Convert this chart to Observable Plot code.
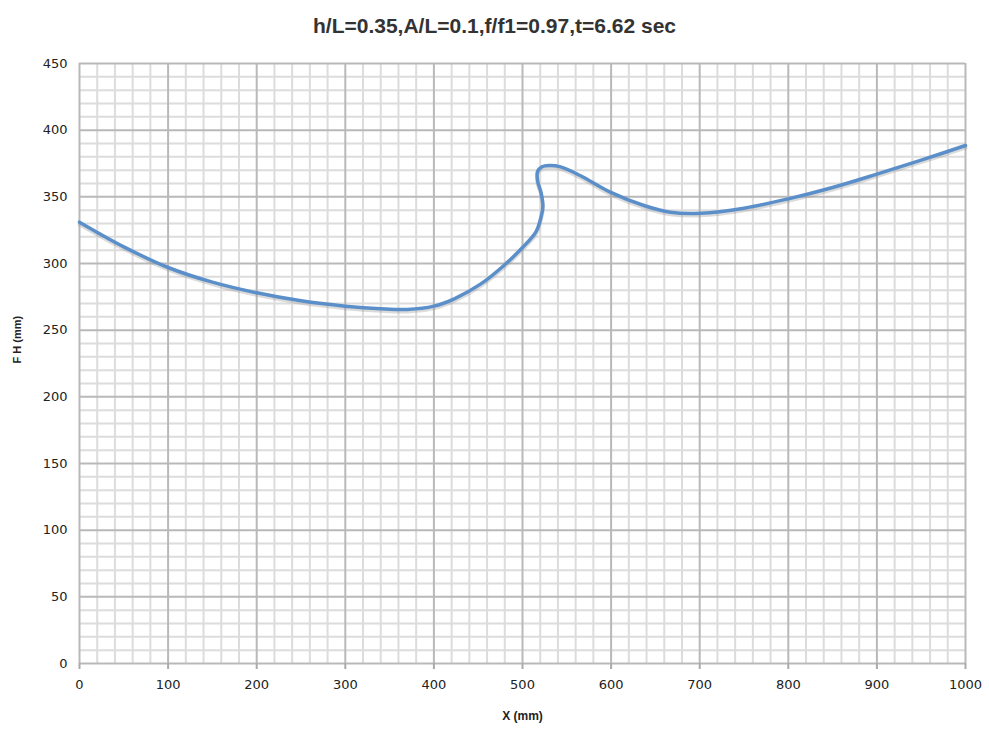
<!DOCTYPE html>
<html><head><meta charset="utf-8">
<script src="https://cdn.jsdelivr.net/npm/d3@7"></script>
<script src="https://cdn.jsdelivr.net/npm/@observablehq/plot@0.6"></script>
<style>
body{margin:0;background:#fff;}
#title{height:50px;line-height:52px;text-align:center;font-family:"Liberation Sans",Arial,sans-serif;font-weight:bold;font-size:21px;color:#333;width:989px;box-sizing:border-box;}
</style></head>
<body>
<div id="title">h/L=0.35,A/L=0.1,f/f1=0.97,t=6.62 sec</div>
<div id="chart"></div>
<script>
const title = "h/L=0.35,A/L=0.1,f/f1=0.97,t=6.62 sec";
const xLabel = "X (mm)";
const yLabel = "F H (mm)";
const xTicks = [0,100,200,300,400,500,600,700,800,900,1000];
const yTicks = [0,50,100,150,200,250,300,350,400,450];
const xMinor = [20,40,60,80,120,140,160,180,220,240,260,280,320,340,360,380,420,440,460,480,520,540,560,580,620,640,660,680,720,740,760,780,820,840,860,880,920,940,960,980];
const yMinor = [10,20,30,40,60,70,80,90,110,120,130,140,160,170,180,190,210,220,230,240,260,270,280,290,310,320,330,340,360,370,380,390,410,420,430,440];
// curve points in drawing order (multivalued near x≈520)
const curveX = [0,50,100,150,200,250,300,340,370,400,423,453,479,500,515,521,523,521,517,517,522,530,543,565,599,637,667,701,750,800,850,900,950,1000];
const curveY = [331,312.5,297,286,278,272,268,266,265.5,268,273.5,284.7,298.5,312,323.5,335,343,353,362,369,372.5,373.5,372.5,366,353.5,343.5,338.5,337.7,341.5,348.5,357,367,377.5,388.5];

const pts = curveX.map((x,i)=>({x, y: curveY[i]}));

const chart = Plot.plot({
  width: 989, height: 680,
  marginTop: 13, marginBottom: 67, marginLeft: 79, marginRight: 24,
  style: {fontFamily: "'DejaVu Sans', Verdana, sans-serif", fontSize: "13px", color: "#222", background: "#fff"},
  x: {domain: [0,1000], ticks: xTicks, tickFormat: "d", label: null},
  y: {domain: [0,450], ticks: yTicks, tickFormat: "d", label: null},
  marks: [
    Plot.ruleX(xMinor, {stroke: "#dcdcdc", strokeWidth: 2}),
    Plot.ruleY(yMinor, {stroke: "#dcdcdc", strokeWidth: 2}),
    Plot.ruleX(xTicks, {stroke: "#b9b9b9", strokeWidth: 2}),
    Plot.ruleY(yTicks, {stroke: "#b9b9b9", strokeWidth: 2}),
    Plot.axisX({ticks: xTicks, tickFormat: "d", tickSize: 6, tickPadding: 10, stroke: "#aaa", strokeWidth: 2, fontSize: 13, label: null}),
    Plot.axisY({ticks: yTicks, tickFormat: "d", tickSize: 0, tickPadding: 12, fontSize: 13, label: null}),
    Plot.line(pts, {x: "x", y: "y", curve: "catmull-rom", stroke: "#999", strokeOpacity: 0.35, strokeWidth: 4, dy: 2}),
    Plot.line(pts, {x: "x", y: "y", curve: "catmull-rom", stroke: "#5b8fca", strokeWidth: 3.5}),
    Plot.text([xLabel], {frameAnchor: "bottom", dy: 56, fontWeight: "bold", fontSize: 12, fontFamily: "'Liberation Sans', Arial, sans-serif"}),
    Plot.text([yLabel], {frameAnchor: "left", dx: -62, rotate: -90, fontWeight: "bold", fontSize: 11, fontFamily: "'Liberation Sans', Arial, sans-serif"})
  ]
});
document.getElementById("chart").appendChild(chart);
</script>
</body></html>
